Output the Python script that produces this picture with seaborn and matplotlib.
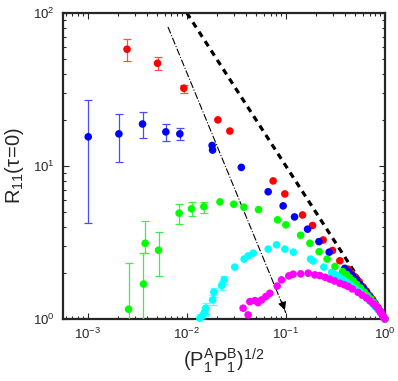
import matplotlib
matplotlib.use("Agg")
import matplotlib.pyplot as plt
import numpy as np
import pandas as pd
import seaborn as sns

# Data (x = (P1A P1B)^1/2, y = R11(tau=0))
red_x = [0.00249, 0.00506, 0.00933, 0.0206, 0.0272, 0.0744, 0.0977, 0.1475, 0.186,
         0.238, 0.296, 0.351, 0.426, 0.46, 0.50, 0.55, 0.60, 0.65, 0.70, 0.75,
         0.80, 0.85, 0.90, 0.95, 1.0]
red_y = [57.9, 46.9, 32.2, 20.0, 16.9, 7.98, 6.56, 4.78, 4.08,
         3.28, 2.80, 2.40, 2.11, 1.99, 1.88, 1.75, 1.62, 1.52, 1.42, 1.34,
         1.26, 1.19, 1.12, 1.06, 1.0]
red_lo = [48.3, 42.4, 30.0]
red_hi = [67.3, 51.5, 33.8]

blue_x = [0.00101, 0.00206, 0.00357, 0.00614, 0.00850, 0.0180, 0.0182, 0.0355, 0.0663,
          0.0939, 0.1224, 0.1657, 0.216, 0.274, 0.394, 0.43, 0.47, 0.51, 0.56, 0.61,
          0.66, 0.71, 0.76, 0.81, 0.86, 0.91, 0.95, 1.0]
blue_y = [15.5, 16.2, 18.8, 16.7, 16.2, 13.6, 12.7, 9.78, 6.78,
          5.48, 4.64, 3.86, 3.20, 2.73, 2.14, 2.03, 1.92, 1.80, 1.68, 1.58,
          1.48, 1.39, 1.31, 1.23, 1.16, 1.10, 1.05, 1.0]
blue_lo = [4.26, 10.6, 15.3, 14.6, 14.8]
blue_hi = [27.0, 21.8, 22.4, 18.8, 17.7]

green_x = [0.00258, 0.00365, 0.00379, 0.00518, 0.00836, 0.01115, 0.01485, 0.0216, 0.0298,
           0.0377, 0.0530, 0.0824, 0.100, 0.141, 0.175, 0.217, 0.261, 0.313, 0.374,
           0.41, 0.44, 0.48, 0.52, 0.57, 0.62, 0.67, 0.72, 0.77, 0.82, 0.87, 0.92,
           0.96, 1.0]
green_y = [1.157, 1.69, 3.12, 2.81, 4.91, 5.24, 5.42, 5.82, 5.62,
           5.37, 5.18, 4.44, 4.12, 3.52, 3.12, 2.75, 2.46, 2.20, 2.04,
           1.95, 1.86, 1.77, 1.68, 1.59, 1.50, 1.42, 1.35, 1.28, 1.22, 1.15, 1.09,
           1.04, 1.0]
green_lo = [0.5, 0.5, 2.69, 1.90, 4.18, 4.71, 4.93]
green_hi = [2.31, 2.70, 4.39, 3.70, 5.64, 5.82, 5.82]

cyan_x = [0.01353, 0.01442, 0.0152, 0.01556, 0.0182, 0.01875, 0.02244, 0.0238, 0.0305,
          0.0379, 0.0416, 0.0468, 0.0663, 0.0805, 0.0977, 0.119, 0.1776, 0.1888, 0.242,
          0.2895, 0.32, 0.35, 0.385, 0.42, 0.46, 0.50, 0.55, 0.60, 0.65, 0.70, 0.75,
          0.80, 0.85, 0.90, 0.95, 1.0]
cyan_y = [1.01, 1.046, 1.116, 1.175, 1.33, 1.495, 1.651, 1.80, 2.18,
          2.46, 2.58, 2.69, 2.86, 3.05, 2.86, 2.73, 2.46, 2.39, 2.18,
          2.01, 1.94, 1.86, 1.79, 1.72, 1.65, 1.58, 1.51, 1.44, 1.38, 1.32, 1.26,
          1.20, 1.15, 1.10, 1.05, 1.0]
cyan_lo = [0.95, 0.98, 1.05, 1.08, 1.24, 1.40, 1.55, 1.70]
cyan_hi = [1.07, 1.11, 1.19, 1.27, 1.43, 1.60, 1.76, 1.90]

magenta_x = [0.0370, 0.0416, 0.0433, 0.0486, 0.0525, 0.0568, 0.0628, 0.0689, 0.0817,
             0.0905, 0.107, 0.1185, 0.141, 0.168, 0.196, 0.22, 0.25, 0.278, 0.31,
             0.351, 0.39, 0.426, 0.47, 0.537, 0.59, 0.653, 0.71, 0.77, 0.824, 0.87,
             0.90, 0.93, 0.95, 0.97, 1.0]
magenta_y = [1.175, 1.062, 1.297, 1.317, 1.278, 1.33, 1.40, 1.47, 1.64,
             1.80, 1.91, 1.96, 1.97, 1.99, 1.94, 1.92, 1.87, 1.82, 1.77,
             1.71, 1.67, 1.63, 1.57, 1.49, 1.43, 1.37, 1.31, 1.25, 1.20, 1.15,
             1.11, 1.08, 1.05, 1.03, 1.0]

series_names = ['red', 'blue', 'green', 'cyan', 'magenta']
colors = {'red': '#ff0000', 'blue': '#0000ff', 'green': '#00ff00',
          'cyan': '#00ffff', 'magenta': '#ff00ff'}
err_colors = {'red': '#ff5050', 'blue': '#4a4aff', 'green': '#40ee40',
              'cyan': '#60ffff'}

# guide lines
dashed_x = [0.01, 1.0]
dashed_y = [100.0, 1.0]
dashdot_x = [0.00645, 0.1]
dashdot_y = [81.0, 1.094]

df = pd.concat([
    pd.DataFrame({'x': red_x, 'y': red_y, 'set': 'red'}),
    pd.DataFrame({'x': blue_x, 'y': blue_y, 'set': 'blue'}),
    pd.DataFrame({'x': green_x, 'y': green_y, 'set': 'green'}),
    pd.DataFrame({'x': cyan_x, 'y': cyan_y, 'set': 'cyan'}),
    pd.DataFrame({'x': magenta_x, 'y': magenta_y, 'set': 'magenta'}),
], ignore_index=True)

errs = {'red': (red_x, red_y, red_lo, red_hi),
        'blue': (blue_x, blue_y, blue_lo, blue_hi),
        'green': (green_x, green_y, green_lo, green_hi),
        'cyan': (cyan_x, cyan_y, cyan_lo, cyan_hi)}

sns.set_style('ticks')
plt.rcParams['font.family'] = ['Liberation Sans', 'DejaVu Sans']
plt.rcParams['mathtext.fontset'] = 'custom'
plt.rcParams['mathtext.rm'] = 'Liberation Sans'
plt.rcParams['mathtext.it'] = 'Liberation Sans:italic'
plt.rcParams['mathtext.bf'] = 'Liberation Sans:bold'

fig = plt.figure(figsize=(3.98, 3.81), dpi=100)
ax = fig.add_axes([0.158, 0.163, 0.809, 0.803])

# guide lines
ax.plot(dashed_x, dashed_y, color='k', lw=2.3, dashes=(1.9, 1.6), zorder=1)
ax.plot(dashdot_x, dashdot_y, color='k', lw=0.8, ls='-.', zorder=1)
ax.annotate('', xy=(dashdot_x[1], dashdot_y[1]), xytext=(0.089, 1.355),
            arrowprops=dict(arrowstyle='-|>', color='k', lw=0.8, mutation_scale=12),
            zorder=6)

# data, error bars drawn under each series
for i, name in enumerate(series_names):
    if name in errs:
        ex, ey, lo, hi = errs[name]
        n = len(lo)
        ey_n = np.array(ey[:n])
        yerr = [ey_n - np.array(lo), np.array(hi) - ey_n]
        ax.errorbar(ex[:n], ey[:n], yerr=yerr, fmt='none', ecolor=err_colors[name],
                    elinewidth=0.9, capsize=3, capthick=0.9, zorder=2 + i)
    sns.scatterplot(data=df[df['set'] == name], x='x', y='y', color=colors[name],
                    s=30, edgecolor='none', linewidth=0, ax=ax, zorder=2 + i,
                    legend=False, clip_on=False)

ax.set_xscale('log')
ax.set_yscale('log')
ax.set_xlim(5.6e-4, 1.0)
ax.set_ylim(1.0, 100.0)

ax.set_xlabel(r'$(\mathrm{P}_1^{\mathrm{A}}\mathrm{P}_1^{\mathrm{B}})^{1/2}$',
              fontsize=14.5, labelpad=3)
ax.set_ylabel(r'$\mathrm{R}_{11}(\mathrm{\tau}\!=\!0)$', fontsize=14.5, labelpad=5)

ax.tick_params(which='both', direction='in', top=True, right=True,
               labelsize=9.5, width=0.8, pad=6)
ax.tick_params(which='major', length=4)
ax.tick_params(which='minor', length=2)
for sp in ax.spines.values():
    sp.set_linewidth(1.6)

fig.savefig('out.png', dpi=100)
